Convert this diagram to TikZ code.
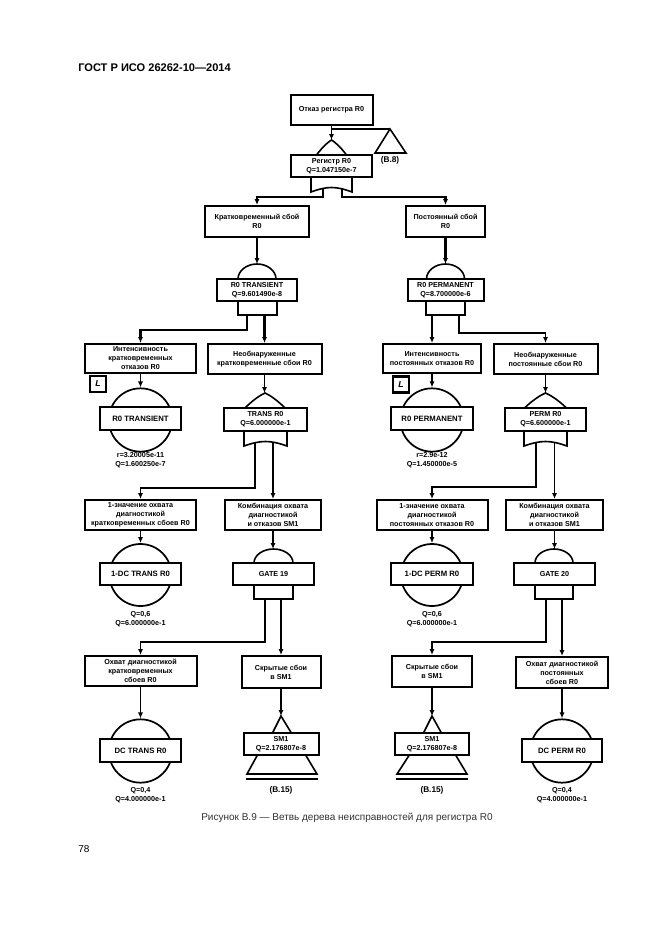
\documentclass[tikz,border=0pt]{standalone}
\usepackage{fontspec}
\setmainfont{Liberation Sans}
\usetikzlibrary{arrows.meta}
\newcommand{\orhat}[4]{\draw[gateline] ({#1-#4},#3) .. controls ({#1-#4*0.55},{#3-(#3-#2)*0.6}) and ({#1-#4*0.2},{#3-(#3-#2)*0.88}) .. (#1,#2) .. controls ({#1+#4*0.2},{#3-(#3-#2)*0.88}) and ({#1+#4*0.55},{#3-(#3-#2)*0.6}) .. ({#1+#4},#3);}
\newcommand{\andhat}[4]{\draw[gateline] ({#1-#4},#3) .. controls ({#1-#4},{#3-(#3-#2)*0.55}) and ({#1-#4*0.55},#2) .. (#1,#2) .. controls ({#1+#4*0.55},#2) and ({#1+#4},{#3-(#3-#2)*0.55}) .. ({#1+#4},#3);}
\newcommand{\orbase}[4]{\draw[gateline] ({#1-#4},#2) -- ({#1-#4},#3) .. controls ({#1-#4*0.6},{#3-3}) and ({#1-#4*0.3},{#3-4.5}) .. (#1,{#3-4.5}) .. controls ({#1+#4*0.3},{#3-4.5}) and ({#1+#4*0.6},{#3-3}) .. ({#1+#4},#3) -- ({#1+#4},#2);}
\tikzset{
  x=0.75pt,y=-0.75pt,
  box/.style 2 args={draw=black,line width=1.5pt,fill=white,align=center,inner sep=0pt,
    minimum width=#1*0.75pt,minimum height=#2*0.75pt,font=\fontsize{5.4}{6.75}\selectfont\bfseries},
  disc/.style={draw=black,line width=1.3pt,circle,fill=white,inner sep=0pt,minimum size=47.5pt},
  gateline/.style={draw=black,line width=1.2pt,line join=miter},
  conn/.style={draw=black,line width=1.25pt,-{Latex[length=4.5pt,width=3.8pt]}},
  thickconn/.style={conn,line width=1.7pt},
  plainline/.style={draw=black,line width=1.25pt},
  lab/.style={inner sep=0pt,align=center,font=\fontsize{5.4}{6.75}\selectfont\bfseries},
  refl/.style={inner sep=0pt,font=\fontsize{6.2}{8}\selectfont\bfseries},
  lbox/.style={draw=black,line width=1.6pt,fill=white,inner sep=0pt,minimum size=12pt,font=\fontsize{6.5}{8}\selectfont\bfseries\itshape},
}
\begin{document}
\begin{tikzpicture}
\useasboundingbox[fill=white] (0,0) rectangle (661,935);
% page furniture
\node[anchor=west,inner sep=0pt,font=\fontsize{8.3}{10}\selectfont\bfseries] (hdr) at (78,67.5) {ГОСТ Р ИСО 26262-10—2014};
\node[inner sep=0pt,text=black!80,font=\fontsize{7.5}{9}\selectfont] (cap) at (347,818) {Рисунок В.9 — Ветвь дерева неисправностей для регистра R0};
\node[anchor=west,inner sep=0pt,font=\fontsize{7.5}{9}\selectfont] (pg) at (78,849) {78};

% ---------- gate shapes (under the boxes)
\orhat{331.5}{140}{155}{15}
\orbase{331.5}{177}{192}{20.5}
\andhat{257}{264}{279}{19}
\draw[gateline] (238,301) rectangle (277,315);
\andhat{445.5}{264}{279}{19}
\draw[gateline] (426,301) rectangle (465,315);
\orhat{265}{393}{408}{20}
\orbase{265.5}{431}{446}{21.5}
\orhat{545.5}{393}{408}{21}
\orbase{545.5}{431}{446}{21.5}
\andhat{273.5}{549}{563}{19.5}
\draw[gateline] (254,585) rectangle (293,599);
\andhat{554}{549}{563}{19}
\draw[gateline] (535,585) rectangle (573,599);

% transfer triangles
\coordinate (trap) at (390,129);
\draw[gateline] (trap) -- (406,153) -- (375,153) -- cycle;
\node[refl] (b8) at (390,160) {(В.8)};
\coordinate (sm1a) at (281,716);
\draw[gateline] (sm1a) -- (292,734) -- (272,734) -- cycle;
\draw[gateline] (258,754) -- (247,774) -- (317,774) -- (305,754);
\draw[line width=1.3pt] (246,779) -- (318,779);
\node[refl] (b15a) at (281,790) {(В.15)};
\coordinate (sm1b) at (432,716);
\draw[gateline] (sm1b) -- (442,734) -- (423,734) -- cycle;
\draw[gateline] (410,754) -- (397,774) -- (467,774) -- (455,754);
\draw[line width=1.3pt] (396,779) -- (468,779);
\node[refl] (b15b) at (432,790) {(В.15)};

% ---------- circles
\node[disc] (c1) at (140.5,420) {};
\node[disc] (c2) at (432,420) {};
\node[disc,minimum size=46.5pt] (c3) at (140.5,575) {};
\node[disc,minimum size=46.5pt] (c4) at (432,575) {};
\node[disc] (c5) at (140.5,751) {};
\node[disc] (c6) at (562,751) {};

% ---------- boxes
\node[box={82}{30}] (top) at (331.5,110) {Отказ регистра R0};
\node[box={81}{22}] (reg) at (331.5,166) {Регистр R0\\Q=1.047150e-7};
\node[box={104}{31}] (ks) at (257,221.5) {Кратковременный сбой\\R0};
\node[box={79}{31}] (ps) at (445.5,221.5) {Постоянный сбой\\R0};
\node[box={80}{22}] (g1) at (257,290) {R0 TRANSIENT\\Q=9.601490e-8};
\node[box={76}{22}] (g2) at (445.5,290) {R0 PERMANENT\\Q=8.700000e-6};

\node[box={111}{29}] (a) at (140.5,358.5) {Интенсивность\\кратковременных\\отказов R0};
\node[box={114}{30}] (b) at (264.5,359) {Необнаруженные\\кратковременные сбои R0};
\node[box={98}{29}] (g) at (432,358.5) {Интенсивность\\постоянных отказов R0};
\node[box={104}{30}] (h) at (545.5,359) {Необнаруженные\\постоянные сбои R0};
\node[lbox] (l1) at (98,384) {L};
\node[lbox] (l2) at (401,384.5) {L};

\node[box={81}{23}] (e1) at (140.5,418.5) {\fontsize{5.8}{7}\selectfont R0 TRANSIENT};
\node[box={82}{23}] (e2) at (432,418.5) {\fontsize{5.8}{7}\selectfont R0 PERMANENT};
\node[box={83}{23}] (t) at (265.5,419.5) {TRANS R0\\Q=6.000000e-1};
\node[box={81}{23}] (p) at (545.5,419.5) {PERM R0\\Q=6.600000e-1};

\node[box={111}{30}] (c) at (140.5,515) {1-значение охвата\\диагностикой\\кратковременных сбоев R0};
\node[box={96}{30}] (d) at (273,515) {Комбинация охвата\\диагностикой\\и отказов SM1};
\node[box={111}{30}] (i) at (432,515) {1-значение охвата\\диагностикой\\постоянных отказов R0};
\node[box={97}{30}] (j) at (554.5,515) {Комбинация охвата\\диагностикой\\и отказов SM1};

\node[box={81}{22}] (e3) at (140.5,574) {\fontsize{5.8}{7}\selectfont 1-DC TRANS R0};
\node[box={81}{22}] (g19) at (273.5,574) {GATE 19};
\node[box={82}{22}] (e4) at (432,574) {\fontsize{5.8}{7}\selectfont 1-DC PERM R0};
\node[box={81}{22}] (g20) at (554.5,574) {GATE 20};

\node[box={112}{30}] (f) at (140.5,671) {Охват диагностикой\\кратковременных\\сбоев R0};
\node[box={79}{32}] (s1) at (281,672) {Скрытые сбои\\в SM1};
\node[box={80}{31}] (s2) at (432,671.5) {Скрытые сбои\\в SM1};
\node[box={92}{31}] (k) at (562,672.5) {Охват диагностикой\\постоянных\\сбоев R0};

\node[box={81}{23}] (e5) at (140.5,750.5) {\fontsize{5.8}{7}\selectfont DC TRANS R0};
\node[box={75}{22}] (sm1) at (281,744) {SM1\\Q=2.176807e-8};
\node[box={74}{22}] (sm2) at (432,744) {SM1\\Q=2.176807e-8};
\node[box={80}{23}] (e6) at (562,750.5) {\fontsize{5.8}{7}\selectfont DC PERM R0};

% ---------- value labels
\node[lab] (v1) at (140.5,460.5) {r=3.20005e-11\\Q=1.600250e-7};
\node[lab] (v2) at (432,460.5) {r=2.9e-12\\Q=1.450000e-5};
\node[lab] (v3) at (140.5,619.5) {Q=0,6\\Q=6.000000e-1};
\node[lab] (v4) at (432,619.5) {Q=0,6\\Q=6.000000e-1};
\node[lab] (v5) at (140.5,795.5) {Q=0,4\\Q=4.000000e-1};
\node[lab] (v6) at (562,795.5) {Q=0,4\\Q=4.000000e-1};

% ---------- connection points
\coordinate (gin) at (331.5,140);
\coordinate (branch) at (331.5,129);
\coordinate (rl) at (323,189);
\coordinate (rr) at (342,189);
\coordinate (rlb) at (323,197);
\coordinate (rrb) at (342,197);
\coordinate (g1in) at (257,264);
\coordinate (g2in) at (445.5,264);
\coordinate (g1l) at (247,315);
\coordinate (g1r) at (264.5,315);
\coordinate (g1b) at (247,330);
\coordinate (g2l) at (432,315);
\coordinate (g2r) at (459,315);
\coordinate (g2b) at (459,333);
\coordinate (tin) at (264.5,393);
\coordinate (pin) at (545.5,393);
\coordinate (tl) at (255,443);
\coordinate (tr) at (273,443);
\coordinate (tb) at (255,488);
\coordinate (pl) at (536,443);
\coordinate (pr) at (554.5,443);
\coordinate (pb) at (536,487);
\coordinate (g19in) at (273,549);
\coordinate (g20in) at (554.5,549);
\coordinate (g19l) at (265,599);
\coordinate (g19r) at (281,599);
\coordinate (g19b) at (265,642);
\coordinate (g20l) at (546,599);
\coordinate (g20r) at (562,599);
\coordinate (g20b) at (546,642);

% ---------- connectors
\draw[conn] (top.south) -- (gin);
\draw[plainline] (branch) -- (trap);
\draw[thickconn] (rl) -- (rlb) -| (ks.north);
\draw[thickconn] (rr) -- (rrb) -| (ps.north);
\draw[thickconn] (ks.south) -- (g1in);
\draw[thickconn] (ps.south) -- (g2in);
\draw[thickconn] (g1l) -- (g1b) -| (a.north);
\draw[thickconn] (g1r) -- (b.north);
\draw[thickconn] (g2l) -- (g.north);
\draw[conn] (g2r) -- (g2b) -| (h.north);
\draw[conn] (a.south) -- (c1.north);
\draw[conn] (g.south) -- (c2.north);
\draw[conn] (b.south) -- (tin);
\draw[conn] (h.south) -- (pin);
\draw[conn] (tl) -- (tb) -| (c.north);
\draw[thickconn] (tr) -- (tr |- d.north);
\draw[conn] (pl) -- (pb) -| (i.north);
\draw[conn] (pr) -- (j.north);
\draw[conn] (c.south) -- (c3.north);
\draw[conn] (i.south) -- (c4.north);
\draw[thickconn] (d.south) -- (g19in);
\draw[conn] (j.south) -- (g20in);
\draw[conn] (g19l) -- (g19b) -| (f.north);
\draw[thickconn] (g19r) -- (s1.north);
\draw[conn] (g20l) -- (g20b) -| (s2.north);
\draw[conn] (g20r) -- (k.north);
\draw[conn] (f.south) -- (c5.north);
\draw[conn] (k.south) -- (c6.north);
\draw[thickconn] (s1.south) -- (sm1a);
\draw[thickconn] (s2.south) -- (sm1b);
\end{tikzpicture}
\end{document}
